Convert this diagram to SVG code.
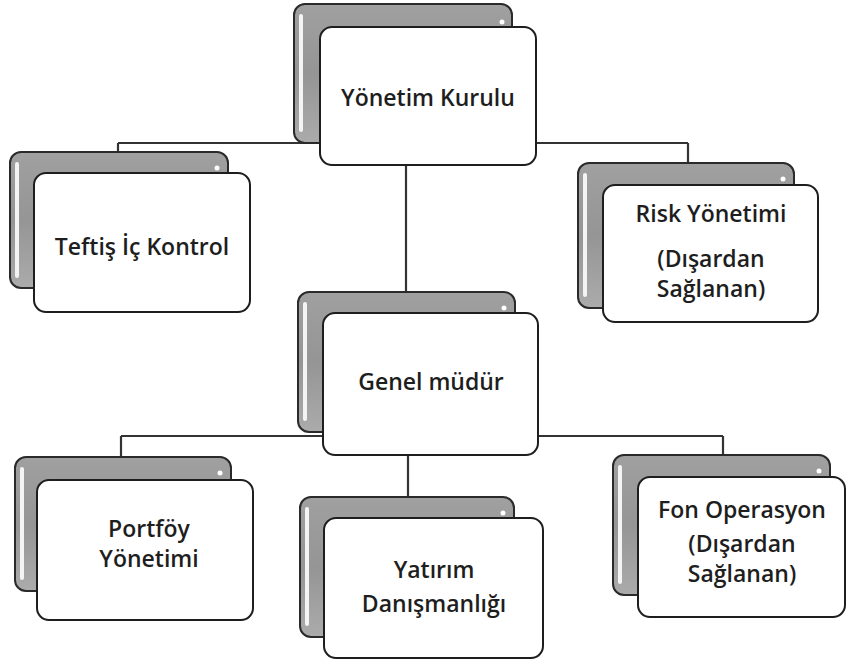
<svg xmlns="http://www.w3.org/2000/svg" width="847" height="662" viewBox="0 0 847 662">
<defs>
<linearGradient id="g" x1="0" y1="0" x2="0" y2="1">
<stop offset="0" stop-color="#a0a0a0"/>
<stop offset="0.5" stop-color="#959595"/>
<stop offset="1" stop-color="#ababab"/>
</linearGradient>
</defs>
<style>
.back{fill:url(#g);stroke:#2a2a2a;stroke-width:2}
.hl{fill:#f4f4f4}
.dot{fill:#fff}
.front{fill:#fff;stroke:#1e1e1e;stroke-width:2}
.conn{stroke:#333;stroke-width:2.2;fill:none}
text{font-family:"Open Sans","Liberation Sans",sans-serif;font-size:23px;font-weight:600;fill:#1e1e1e;text-anchor:middle}
</style>
<rect width="847" height="662" fill="#fff"/>
<g id="connectors">
<path class="conn" d="M118 143H688M118 143V153M688 143V164M406 165V293"/>
<path class="conn" d="M121 436H723M121 436V458M723 436V456M408 455V498"/>
</g>
<g id="yonetim-kurulu">
<rect class="back" x="294" y="4" width="218" height="139" rx="11"/>
<rect class="hl" x="299" y="14" width="4" height="118" rx="2"/>
<circle class="dot" cx="502" cy="22" r="2.5"/>
<rect class="front" x="320" y="27" width="216" height="138" rx="12"/>
<text x="428" y="106">Yönetim Kurulu</text>
</g>
<g id="teftis">
<rect class="back" x="10" y="152" width="218" height="136" rx="11"/>
<rect class="hl" x="15" y="162" width="4" height="116" rx="2"/>
<circle class="dot" cx="217" cy="168" r="2.5"/>
<rect class="front" x="34" y="173" width="216" height="139" rx="12"/>
<text x="142" y="255">Teftiş İç Kontrol</text>
</g>
<g id="risk">
<rect class="back" x="578" y="163" width="216" height="145" rx="11"/>
<rect class="hl" x="583" y="173" width="4" height="124" rx="2"/>
<circle class="dot" cx="783" cy="179" r="2.5"/>
<rect class="front" x="603" y="185" width="215" height="137" rx="12"/>
<text x="711" y="222">Risk Yönetimi</text>
<text x="711" y="267">(Dışardan</text>
<text x="711" y="297">Sağlanan)</text>
</g>
<g id="genel-mudur">
<rect class="back" x="298" y="292" width="217" height="140" rx="11"/>
<rect class="hl" x="303" y="302" width="4" height="119" rx="2"/>
<circle class="dot" cx="504" cy="308" r="2.5"/>
<rect class="front" x="323" y="313" width="215" height="142" rx="12"/>
<text x="431" y="390">Genel müdür</text>
</g>
<g id="portfoy">
<rect class="back" x="15" y="457" width="216" height="134" rx="11"/>
<rect class="hl" x="20" y="467" width="4" height="113" rx="2"/>
<circle class="dot" cx="220" cy="473" r="2.5"/>
<rect class="front" x="37" y="480" width="216" height="140" rx="12"/>
<text x="149" y="537">Portföy</text>
<text x="149" y="567">Yönetimi</text>
</g>
<g id="yatirim">
<rect class="back" x="300" y="497" width="214" height="140" rx="11"/>
<rect class="hl" x="305" y="507" width="4" height="119" rx="2"/>
<circle class="dot" cx="503" cy="513" r="2.5"/>
<rect class="front" x="324" y="518" width="219" height="140" rx="12"/>
<text x="434" y="578">Yatırım</text>
<text x="434" y="612">Danışmanlığı</text>
</g>
<g id="fon-operasyon">
<rect class="back" x="613" y="455" width="217" height="140" rx="11"/>
<rect class="hl" x="618" y="465" width="4" height="119" rx="2"/>
<circle class="dot" cx="819" cy="471" r="2.5"/>
<rect class="front" x="638" y="477" width="207" height="140" rx="12"/>
<text x="742" y="518">Fon Operasyon</text>
<text x="742" y="552">(Dışardan</text>
<text x="742" y="582">Sağlanan)</text>
</g>
</svg>
